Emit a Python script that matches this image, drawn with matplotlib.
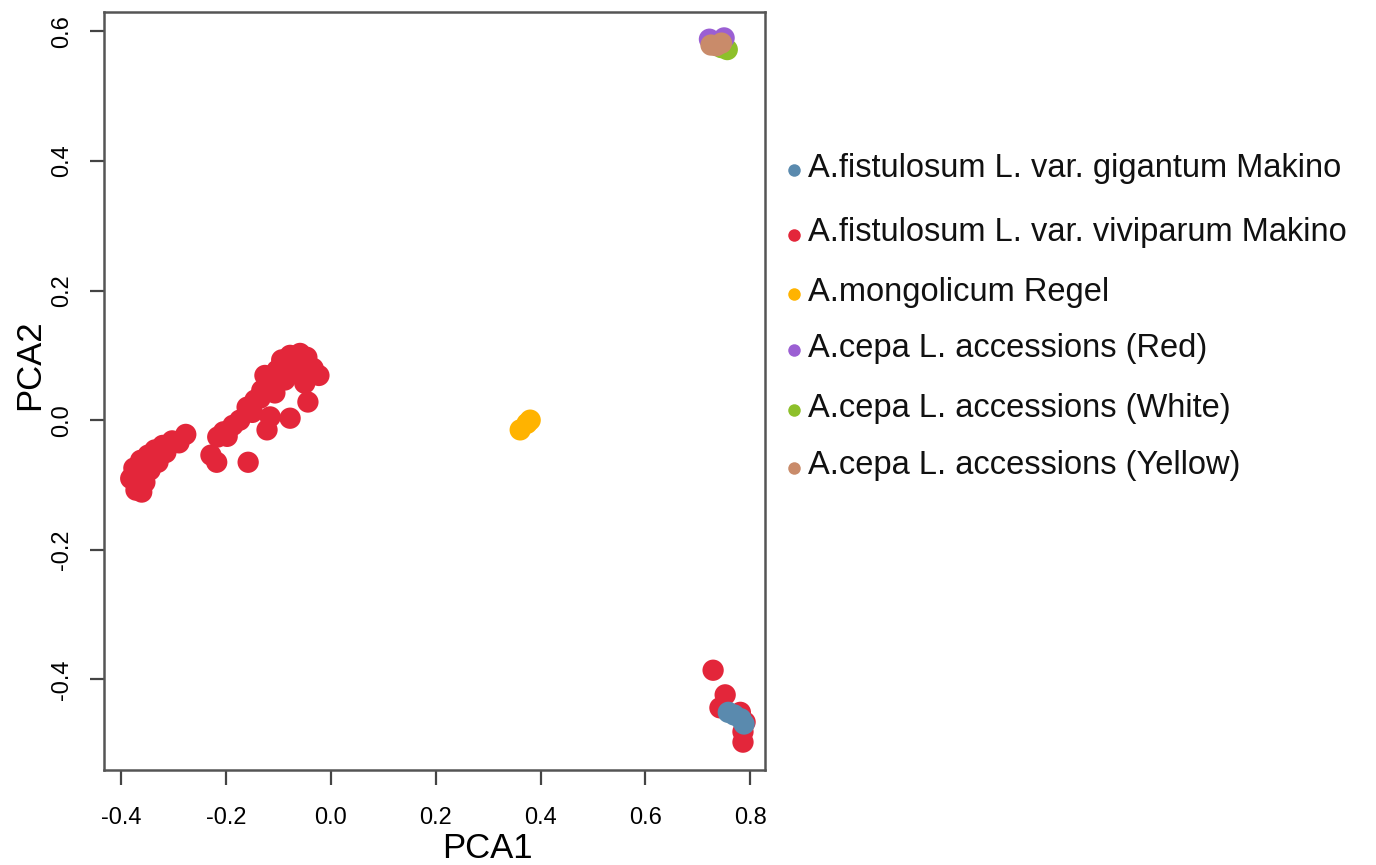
#!/usr/bin/env python3
"""PCA scatter of Allium accessions, redrawn to out.png."""

import matplotlib

matplotlib.use("Agg")
import matplotlib.pyplot as plt
from matplotlib.lines import Line2D

plt.rcParams["font.family"] = ["Liberation Sans", "DejaVu Sans"]

# A.fistulosum L. var. gigantum Makino
gigantum_x = [0.758, 0.769, 0.782, 0.788]
gigantum_y = [-0.451, -0.455, -0.461, -0.469]

# A.fistulosum L. var. viviparum Makino
viviparum_x = [
    -0.382, -0.372, -0.361, -0.376, -0.363, -0.349, -0.336, -0.321, -0.303,
    -0.345, -0.330, -0.355, -0.277, -0.366, -0.229, -0.218, -0.158, -0.216,
    -0.198, -0.187, -0.174, -0.160, -0.145, -0.132, -0.120, -0.103, -0.094,
    -0.078, -0.059, -0.046, -0.034, -0.023, -0.050, -0.069, -0.088, -0.107,
    -0.135, -0.116, -0.122, -0.078, -0.044, -0.126, -0.082, -0.340, -0.315,
    -0.290, -0.150, -0.112, -0.065, -0.095, -0.205,
    0.729, 0.752, 0.742, 0.786, 0.786, 0.790, 0.781,
]
viviparum_y = [
    -0.090, -0.108, -0.111, -0.074, -0.062, -0.054, -0.046, -0.039, -0.032,
    -0.077, -0.065, -0.096, -0.022, -0.085, -0.054, -0.065, -0.065, -0.026,
    -0.025, -0.008, 0.000, 0.020, 0.031, 0.046, 0.062, 0.077, 0.093,
    0.100, 0.103, 0.097, 0.080, 0.069, 0.057, 0.073, 0.062, 0.042,
    0.034, 0.005, -0.015, 0.003, 0.028, 0.069, 0.085, -0.068, -0.050,
    -0.035, 0.012, 0.052, 0.088, 0.078, -0.018,
    -0.386, -0.424, -0.444, -0.481, -0.497, -0.466, -0.451,
]

# A.mongolicum Regel
mongolicum_x = [0.361, 0.374, 0.380]
mongolicum_y = [-0.015, -0.005, 0.000]

# A.cepa L. accessions
cepa_red_x = [0.722, 0.750]
cepa_red_y = [0.588, 0.590]
cepa_white_x = [0.756, 0.745]
cepa_white_y = [0.572, 0.575]
cepa_yellow_x = [0.725, 0.745, 0.735]
cepa_yellow_y = [0.579, 0.582, 0.578]

groups = [
    ("A.fistulosum L. var. gigantum Makino", gigantum_x, gigantum_y, "#5A8AAE"),
    ("A.fistulosum L. var. viviparum Makino", viviparum_x, viviparum_y, "#E3263A"),
    ("A.mongolicum Regel", mongolicum_x, mongolicum_y, "#FFB300"),
    ("A.cepa L. accessions (Red)", cepa_red_x, cepa_red_y, "#9B5FD3"),
    ("A.cepa L. accessions (White)", cepa_white_x, cepa_white_y, "#8DC02A"),
    ("A.cepa L. accessions (Yellow)", cepa_yellow_x, cepa_yellow_y, "#C98B6A"),
]
# stacking order (higher is drawn on top)
layer = [5, 3, 3, 4, 3, 6]

fig = plt.figure(figsize=(13.76, 8.65), dpi=100)
ax = fig.add_axes([104 / 1376, 95 / 865, 661 / 1376, 758 / 865])

for (label, xs, ys, color), z in zip(groups, layer):
    ax.scatter(xs, ys, s=235, color=color, edgecolors="none", zorder=z)

ax.set_xlim(-0.433, 0.828)
ax.set_ylim(-0.540, 0.630)
ax.set_xticks([-0.4, -0.2, 0.0, 0.2, 0.4, 0.6, 0.8])
ax.set_yticks([-0.4, -0.2, 0.0, 0.2, 0.4, 0.6])
ax.set_xticklabels([f"{v:.1f}" for v in ax.get_xticks()])
ax.set_yticklabels([f"{v:.1f}" for v in ax.get_yticks()], rotation=90, va="center")
ax.tick_params(axis="x", length=11, width=1.6, color="#444444", labelsize=17, pad=16)
ax.tick_params(axis="y", length=10, width=1.6, color="#444444", labelsize=17, pad=12)
for spine in ax.spines.values():
    spine.set_color("#555555")
    spine.set_linewidth(1.8)
ax.set_xlabel("PCA1", fontsize=25)
ax.set_ylabel("PCA2", fontsize=25)
ax.xaxis.set_label_coords((487 - 104) / 661, -0.082)
ax.yaxis.set_label_coords(-0.088, (770 - 365) / 758)

# legend drawn as dots plus text to the right of the plot
legend_y = [168, 233, 292, 348, 408, 466]
for (label, xs, ys, color), ly in zip(groups, legend_y):
    fig.add_artist(Line2D([794 / 1376], [1 - (ly + 2) / 865], marker="o", markersize=9,
                          color=color, markeredgewidth=0, transform=fig.transFigure))
    fig.text(808 / 1376, 1 - ly / 865, label, color="#111111", fontsize=23.5,
             ha="left", va="center")

fig.savefig("out.png")
